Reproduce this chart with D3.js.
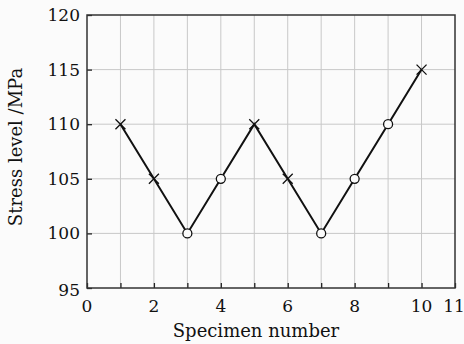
<!DOCTYPE html>
<html>
<head>
<meta charset="utf-8">
<script src="https://cdn.jsdelivr.net/npm/d3@7"></script>
<style>
  body { margin: 0; background: #fbfbfb; }
  svg { display: block; }
  text { font-family: "DejaVu Serif", "Liberation Serif", serif; fill: #111; }
</style>
</head>
<body>
<svg width="464" height="344"></svg>
<script>
let specimens = [1, 2, 3, 4, 5, 6, 7, 8, 9, 10];
let stress = [110, 105, 100, 105, 110, 105, 100, 105, 110, 115];
// "x" = failed, "o" = run-out
let markers = ["x", "x", "o", "o", "x", "x", "o", "o", "o", "x"];
let xTickLabels = [0, 2, 4, 6, 8, 10, 11];
let yTickLabels = [95, 100, 105, 110, 115, 120];

let svg = d3.select("svg");
let pLeft = 87, pRight = 455, pTop = 15, pBottom = 288;

let x = d3.scaleLinear().domain([0, 11]).range([pLeft, pRight]);
let y = d3.scaleLinear().domain([95, 120]).range([pBottom, pTop]);

svg.append("rect")
  .attr("x", pLeft).attr("y", pTop)
  .attr("width", pRight - pLeft).attr("height", pBottom - pTop)
  .attr("fill", "#fbfbfb");

// grid
svg.append("g")
  .selectAll("line")
  .data(d3.range(1, 11))
  .enter()
  .append("line")
  .attr("x1", d => x(d)).attr("x2", d => x(d))
  .attr("y1", pTop).attr("y2", pBottom)
  .attr("stroke", "#c8c8c8").attr("stroke-width", 1);

svg.append("g")
  .selectAll("line")
  .data([100, 105, 110, 115])
  .enter()
  .append("line")
  .attr("x1", pLeft).attr("x2", pRight)
  .attr("y1", d => y(d)).attr("y2", d => y(d))
  .attr("stroke", "#c8c8c8").attr("stroke-width", 1);

// axes with inward ticks
let xAxis = svg.append("g")
  .attr("transform", "translate(0," + pBottom + ")")
  .call(d3.axisTop(x).tickValues(d3.range(0, 12)).tickSize(5).tickFormat(""));
let yAxis = svg.append("g")
  .attr("transform", "translate(" + pLeft + ",0)")
  .call(d3.axisRight(y).tickValues(yTickLabels).tickSize(5).tickFormat(""));
[xAxis, yAxis].forEach(function(g) {
  g.select(".domain").remove();
  g.selectAll("line").attr("stroke", "#222").attr("stroke-width", 1.3);
});

// frame
svg.append("rect")
  .attr("x", pLeft).attr("y", pTop)
  .attr("width", pRight - pLeft).attr("height", pBottom - pTop)
  .attr("fill", "none").attr("stroke", "#333").attr("stroke-width", 1.5);

// tick labels
svg.append("g")
  .selectAll("text")
  .data(xTickLabels)
  .enter()
  .append("text")
  .attr("x", d => x(d) - (d == 11 ? 1 : 0))
  .attr("y", pBottom + 24)
  .attr("text-anchor", "middle")
  .attr("font-size", 17)
  .text(d => d);

svg.append("g")
  .selectAll("text")
  .data(yTickLabels)
  .enter()
  .append("text")
  .attr("x", pLeft - 7)
  .attr("y", d => y(d) + 6 + (d == 95 ? 2 : 0))
  .attr("text-anchor", "end")
  .attr("font-size", 17)
  .text(d => d);

// line
let pts = specimens.map((s, i) => ({ s: s, v: stress[i], m: markers[i] }));
svg.append("path")
  .datum(pts)
  .attr("fill", "none")
  .attr("stroke", "#111")
  .attr("stroke-width", 2)
  .attr("d", d3.line().x(d => x(d.s)).y(d => y(d.v)));

// markers
svg.append("g")
  .selectAll("circle")
  .data(pts.filter(d => d.m == "o"))
  .enter()
  .append("circle")
  .attr("cx", d => x(d.s))
  .attr("cy", d => y(d.v))
  .attr("r", 4.5)
  .attr("fill", "#fbfbfb")
  .attr("stroke", "#111")
  .attr("stroke-width", 1.3);

let cross = pts.filter(d => d.m == "x");
svg.append("g")
  .selectAll("path")
  .data(cross)
  .enter()
  .append("path")
  .attr("d", function(d) {
    let cx = x(d.s), cy = y(d.v), r = 5;
    return "M" + (cx - r) + "," + (cy - r) + "L" + (cx + r) + "," + (cy + r) +
      "M" + (cx - r) + "," + (cy + r) + "L" + (cx + r) + "," + (cy - r);
  })
  .attr("stroke", "#111")
  .attr("stroke-width", 1.3);

// axis titles
svg.append("text")
  .attr("x", 256)
  .attr("y", 337)
  .attr("text-anchor", "middle")
  .attr("font-size", 18)
  .text("Specimen number");

svg.append("text")
  .attr("transform", "translate(22,147) rotate(-90)")
  .attr("text-anchor", "middle")
  .attr("font-size", 18)
  .text("Stress level /MPa");
</script>
</body>
</html>
